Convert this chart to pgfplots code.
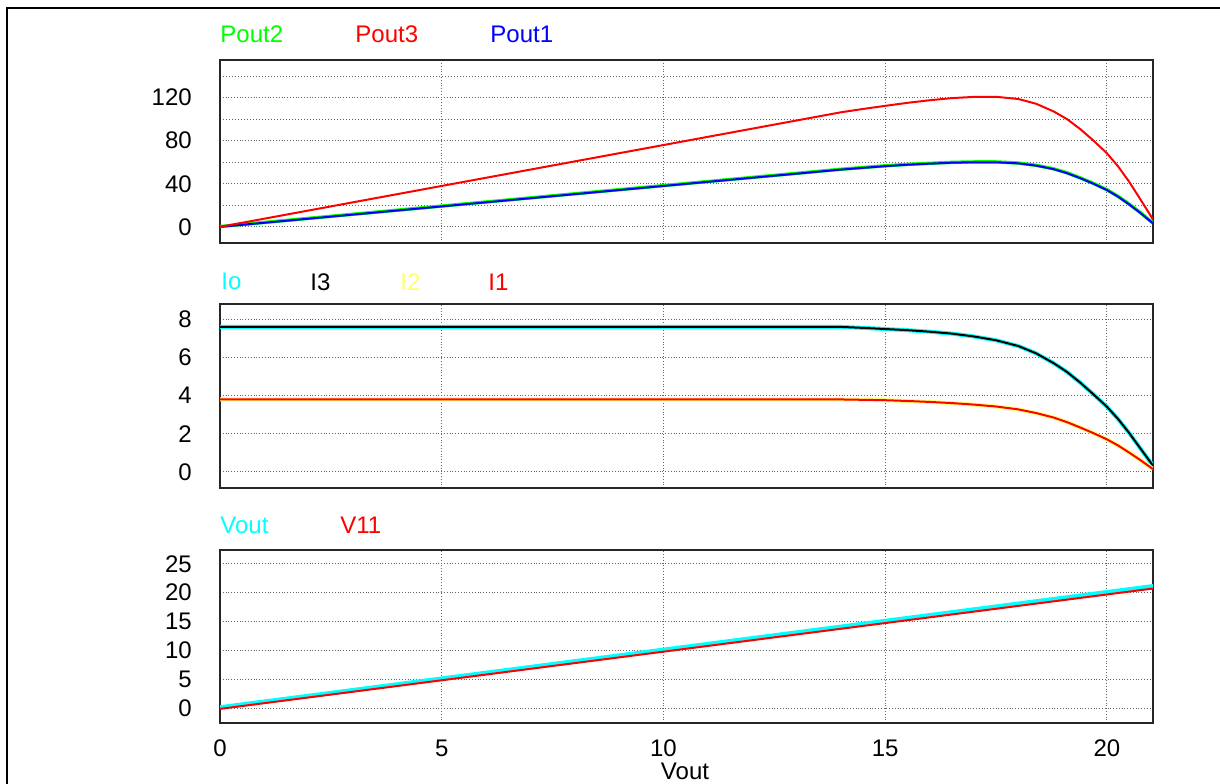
\documentclass[border=0pt]{standalone}
\usepackage{fontspec}
\setmainfont{Liberation Sans}
\usepackage{pgfplots}
\usepackage{pgfplotstable}
\pgfplotsset{compat=1.18}
\definecolor{pgreen}{RGB}{0,255,0}
\definecolor{pred}{RGB}{255,0,0}
\definecolor{pblue}{RGB}{0,0,255}
\definecolor{pcyan}{RGB}{0,255,255}
\definecolor{pyellow}{RGB}{255,255,110}

\pgfplotstableread{
x p1
0 0
5 19
10 38
14 53.2
14.5 54.8
15 56.4
15.5 57.7
16 58.7
16.5 59.6
17 60.0
17.5 60.0
18 59.0
18.4 56.9
18.8 53.6
19.1 49.9
19.4 45.2
19.7 40.0
20 34.2
20.25 28.1
20.5 20.9
20.75 13.1
21.04 3.2
}\tabPone
\pgfplotstableread{
x p2
0 0.3
5 19.3
10 38.3
14 53.5
14.5 55.1
15 56.7
15.5 58.0
16 59.0
16.5 59.9
17 60.3
17.5 60.3
18 59.3
18.4 57.2
18.8 53.9
19.1 50.2
19.4 45.5
19.7 40.3
20 34.5
20.25 28.4
20.5 21.2
20.75 13.4
21.04 3.5
}\tabPtwo
\pgfplotstableread{
x p3
0 0
5 38
10 76
14 106.4
14.5 109.5
15 112.4
15.5 115.2
16 117.6
16.5 119.6
17 120.7
17.5 120.8
18 118.8
18.4 114.4
18.8 107.2
19.1 100.1
19.4 90.8
19.7 80.0
20 68.4
20.25 56.3
20.5 42.0
20.75 25.9
21.04 6.9
}\tabPthree
\pgfplotstableread{
x i3
0 7.6
14 7.6
14.5 7.55
15 7.49
15.5 7.43
16 7.35
16.5 7.25
17 7.1
17.5 6.9
18 6.6
18.4 6.22
18.8 5.7
19.1 5.24
19.4 4.68
19.7 4.06
20 3.42
20.25 2.78
20.5 2.05
20.75 1.25
21.04 0.33
}\tabIthree
\pgfplotstableread{
x i1
0 3.8
14 3.8
14.5 3.78
15 3.76
15.5 3.72
16 3.67
16.5 3.61
17 3.53
17.5 3.43
18 3.28
18.4 3.09
18.8 2.85
19.1 2.61
19.4 2.33
19.7 2.03
20 1.71
20.25 1.39
20.5 1.02
20.75 0.63
21.04 0.15
}\tabIone
\pgfplotstableread{
x v
0 0.1
21.04 21.12
}\tabVout
\pgfplotstableread{
x v
0 -0.15
21.04 20.72
}\tabVeleven

\pgfplotsset{panel/.style={
  scale only axis, width=466.5pt, xmin=0, xmax=21.04,
  xtick={0,5,10,15,20},
  axis line style={black!85, line width=0.8pt},
  major tick length=0pt, minor tick length=0pt,
  grid=both,
  grid style={densely dotted, black!60, line width=0.5pt},
  minor grid style={densely dotted, black!60, line width=0.5pt},
  tick label style={font=\fontsize{12}{14}\selectfont},
  /pgf/number format/assume math mode=true,
  yticklabel style={xshift=-10.6pt},
  anchor=south west,
  every axis plot/.append style={line join=round, mark=none},
}}

\begin{document}
\begin{tikzpicture}
\useasboundingbox (0,0) rectangle (610pt,391.5pt);
\draw[line width=1.1pt] (3.5pt,-20pt) -- (3.5pt,387.5pt) -- (640pt,387.5pt);

% Panel 1
\begin{axis}[panel, at={(110pt,270pt)}, height=91.5pt,
  ymin=-15, ymax=155, ytick={0,40,80,120}, minor ytick={20,60,100,140},
  xticklabels={}]
\addplot[pgreen, line width=1.7pt] table[x=x,y=p2] {\tabPtwo};
\addplot[pblue, line width=1pt] table[x=x,y=p1] {\tabPone};
\addplot[pred, line width=1pt] table[x=x,y=p3] {\tabPthree};
\end{axis}

% Panel 2
\begin{axis}[panel, at={(110pt,147.5pt)}, height=92pt,
  ymin=-0.84, ymax=8.8, ytick={0,2,4,6,8},
  xticklabels={}]
\addplot[pcyan, line width=2pt] table[x=x,y=i3] {\tabIthree};
\addplot[black, line width=1pt] table[x=x,y=i3] {\tabIthree};
\addplot[pyellow, line width=2pt] table[x=x,y=i1] {\tabIone};
\addplot[pred, line width=1pt] table[x=x,y=i1] {\tabIone};
\end{axis}

% Panel 3
\begin{axis}[panel, at={(110pt,30pt)}, height=86.5pt,
  ymin=-2.6, ymax=27.4, ytick={0,5,10,15,20,25},
  xticklabel style={anchor=center, yshift=-12.5pt}]
\addplot[pcyan, line width=2.2pt] table[x=x,y=v] {\tabVout};
\addplot[pred, line width=1pt] table[x=x,y=v] {\tabVeleven};
\end{axis}

\begin{scope}[every node/.style={anchor=west, inner sep=0pt, font=\fontsize{12}{14}\selectfont}]
\node[text=pgreen] at (110pt,374.5pt) {Pout2};
\node[text=pred] at (177.5pt,374.5pt) {Pout3};
\node[text=pblue] at (245pt,374.5pt) {Pout1};
\node[text=pcyan] at (110.5pt,250.6pt) {Io};
\node[text=black] at (155pt,250.6pt) {I3};
\node[text=pyellow] at (200pt,250.6pt) {I2};
\node[text=pred] at (244pt,250.6pt) {I1};
\node[text=pcyan] at (110pt,129pt) {Vout};
\node[text=pred] at (170pt,129pt) {V11};
\node[anchor=center] at (342.5pt,5.6pt) {Vout};
\end{scope}
\end{tikzpicture}
\end{document}
